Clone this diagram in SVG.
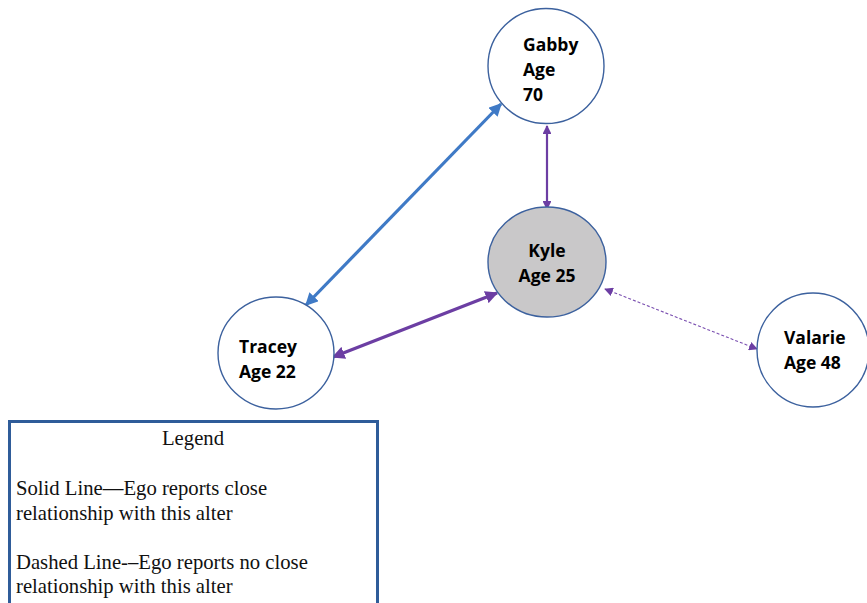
<svg xmlns="http://www.w3.org/2000/svg" width="867" height="603" viewBox="0 0 867 603">
  <style>
    .node { fill: #ffffff; stroke: #3c619e; stroke-width: 1.4; }
    .ego { fill: #c9c8c9; }
    .label { font-family: "Open Sans", "Liberation Sans", sans-serif; font-weight: bold; font-size: 17.5px; fill: #000000; }
    .close-blue { stroke: #3f7ac6; stroke-width: 3.2; fill: none; }
    .close-purple { stroke: #6c3ea3; fill: none; }
    .distant { stroke: #7a4fb0; stroke-width: 1.1; stroke-dasharray: 3 2; fill: none; }
    .legend-box { fill: #ffffff; stroke: #2f5c99; stroke-width: 3; }
    .legend-text { font-family: "Liberation Serif", "Times New Roman", serif; font-size: 20.7px; fill: #111111; }
  </style>
  <defs>
    <marker id="ah-blue" viewBox="0 0 10 10" refX="9" refY="5" markerWidth="4" markerHeight="4" markerUnits="strokeWidth" orient="auto-start-reverse">
      <path d="M0,0 L10,5 L0,10 z" fill="#3f7ac6"/>
    </marker>
    <marker id="ah-purple" viewBox="0 0 10 10" refX="9" refY="5" markerWidth="4" markerHeight="4" markerUnits="strokeWidth" orient="auto-start-reverse">
      <path d="M0,0 L10,5 L0,10 z" fill="#6c3ea3"/>
    </marker>
    <marker id="ah-purple-thin" viewBox="0 0 10 10" refX="9" refY="5" markerWidth="8" markerHeight="8" markerUnits="strokeWidth" orient="auto-start-reverse">
      <path d="M0,0 L10,5 L0,10 z" fill="#6c3ea3"/>
    </marker>
  </defs>

  <!-- connectors -->
  <g id="connectors">
    <line class="close-blue" x1="306" y1="305" x2="501" y2="104" marker-start="url(#ah-blue)" marker-end="url(#ah-blue)"/>
    <line class="close-purple" stroke-width="2.2" x1="547" y1="126" x2="547" y2="209" marker-start="url(#ah-purple)" marker-end="url(#ah-purple)"/>
    <line class="close-purple" stroke-width="3.2" x1="333" y1="357" x2="497" y2="293" marker-start="url(#ah-purple)" marker-end="url(#ah-purple)"/>
    <line class="distant" x1="605" y1="289" x2="757" y2="349" marker-start="url(#ah-purple-thin)" marker-end="url(#ah-purple-thin)"/>
  </g>

  <!-- nodes -->
  <g id="gabby">
    <ellipse class="node" cx="546" cy="66" rx="58" ry="57.5"/>
    <text class="label" x="523" y="51">Gabby</text>
    <text class="label" x="523" y="76">Age</text>
    <text class="label" x="523" y="101">70</text>
  </g>
  <g id="kyle">
    <ellipse class="node ego" cx="547" cy="262" rx="59" ry="55"/>
    <text class="label" x="547" y="257" text-anchor="middle">Kyle</text>
    <text class="label" x="547" y="282" text-anchor="middle">Age 25</text>
  </g>
  <g id="tracey">
    <ellipse class="node" cx="276" cy="353" rx="58" ry="56"/>
    <text class="label" x="239" y="353">Tracey</text>
    <text class="label" x="239" y="378">Age 22</text>
  </g>
  <g id="valarie">
    <ellipse class="node" cx="813" cy="350" rx="56" ry="57"/>
    <text class="label" x="784" y="344">Valarie</text>
    <text class="label" x="784" y="369">Age 48</text>
  </g>

  <!-- legend -->
  <g id="legend">
    <rect class="legend-box" x="9.5" y="421.5" width="368" height="190"/>
    <text class="legend-text" x="193" y="445" text-anchor="middle">Legend</text>
    <text class="legend-text" x="16" y="495">Solid Line—Ego reports close</text>
    <text class="legend-text" x="16" y="520">relationship with this alter</text>
    <text class="legend-text" x="16" y="569">Dashed Line-–Ego reports no close</text>
    <text class="legend-text" x="16" y="593">relationship with this alter</text>
  </g>
</svg>
